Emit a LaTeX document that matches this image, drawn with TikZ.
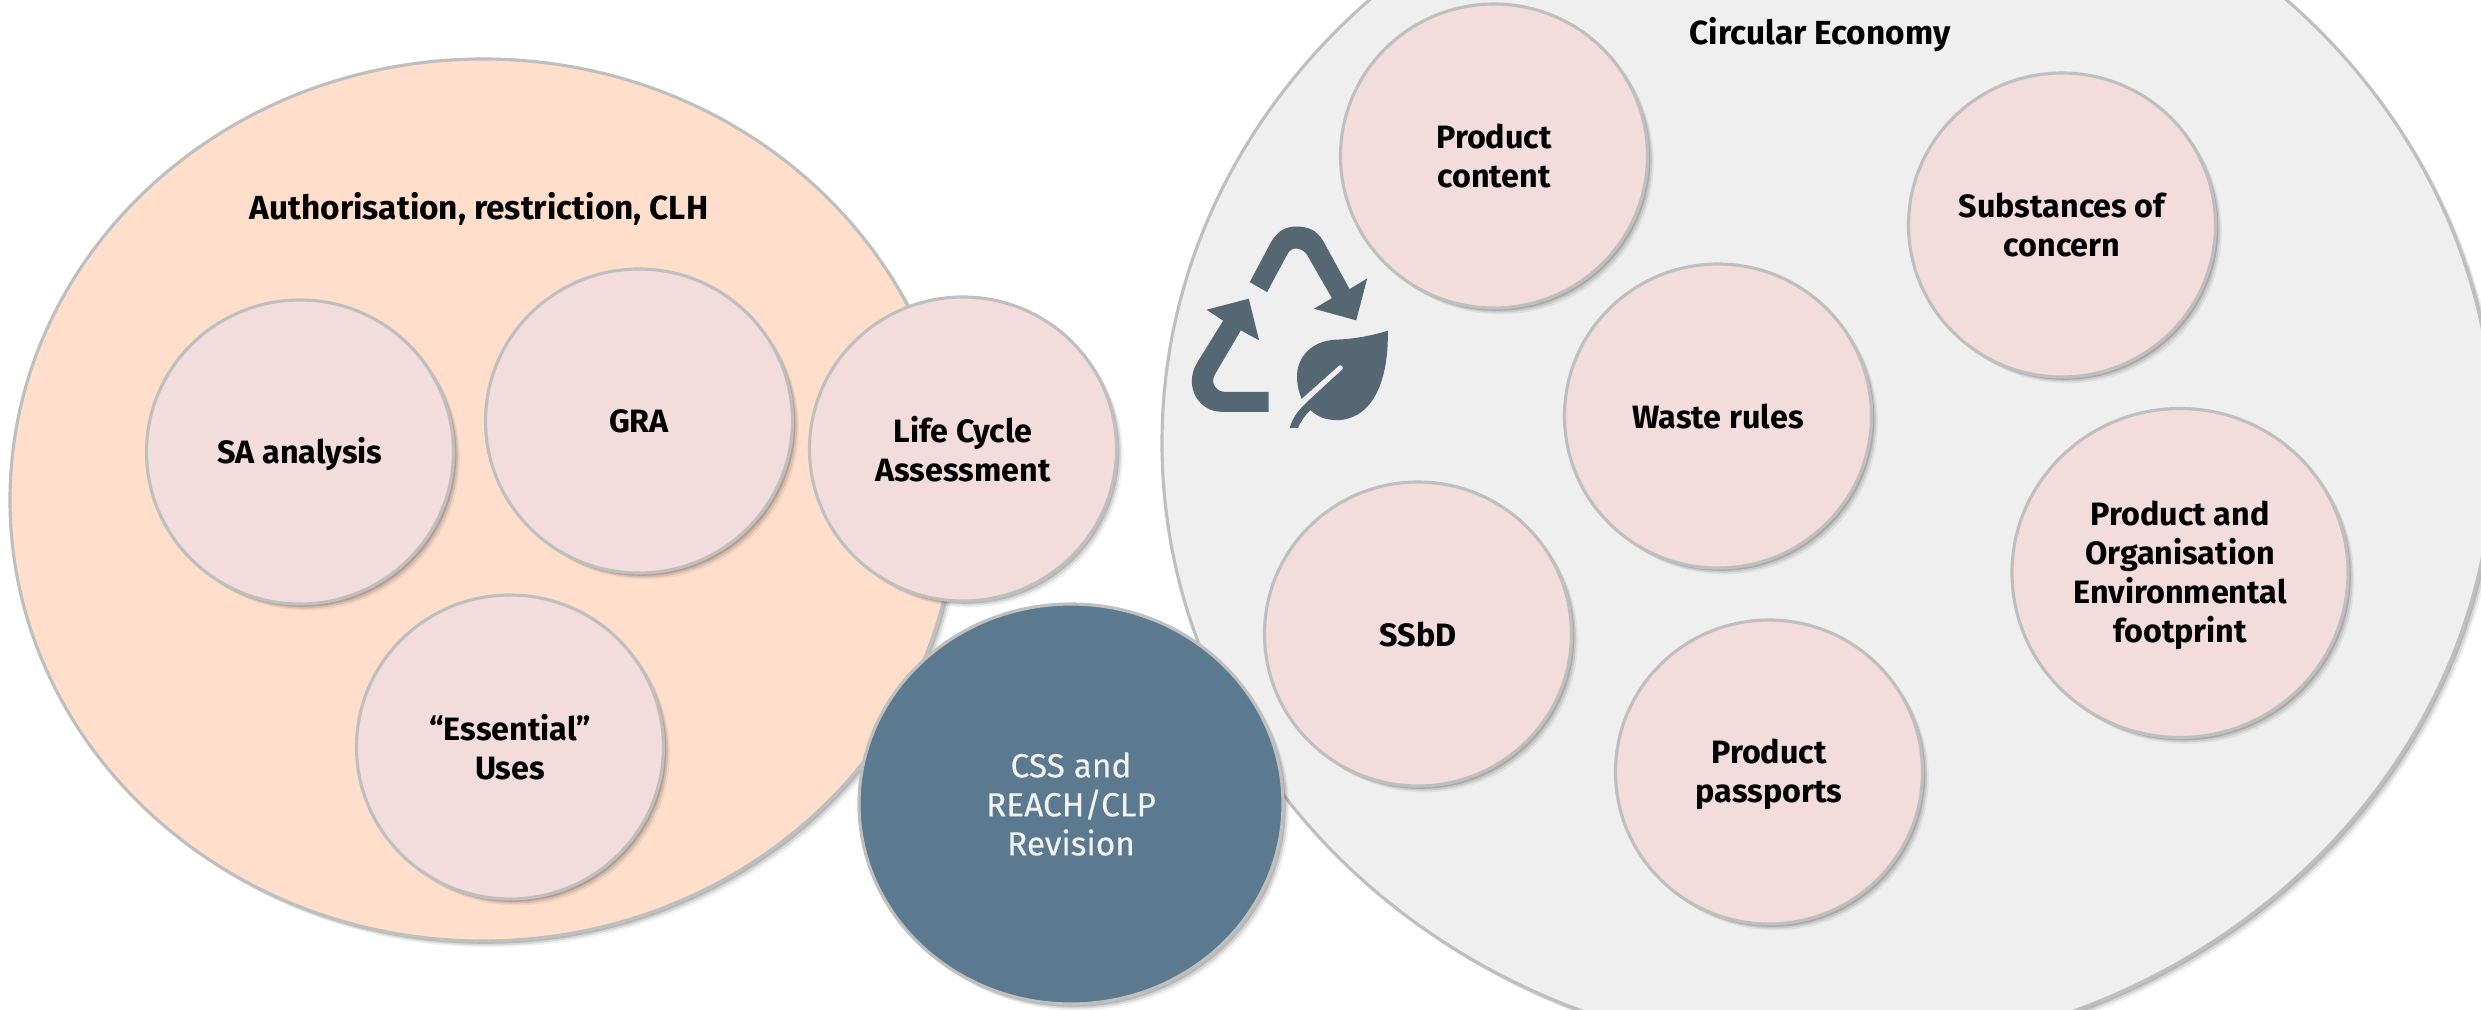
\documentclass[tikz,border=0pt]{standalone}
\usepackage{fontspec}
\setmainfont{Fira Sans}
\newfontfamily\medfont[FakeBold=0.35]{Fira Sans}
\usepackage{xcolor}
\usetikzlibrary{shapes,shadows}
\definecolor{peach}{HTML}{FFDFCC}
\definecolor{lgrey}{HTML}{EFEFEF}
\definecolor{pink}{HTML}{F2DCDC}
\definecolor{steel}{HTML}{5B7A90}
\definecolor{slate}{HTML}{546773}
\definecolor{edge}{HTML}{BFBFBF}
\definecolor{pale}{HTML}{F2F2F2}
\newcommand{\lowr}{\rule{0pt}{8.3pt}}
\tikzset{ell/.style={ellipse,draw=edge,line width=0.9pt,fill=pink,inner sep=0pt,minimum width=3.07cm,minimum height=3.04cm,align=center,
    font=\bfseries\fontsize{9.2}{11.1}\selectfont,
    general shadow={shadow xshift=1.8pt,shadow yshift=-1.8pt,fill=black,opacity=0.06},
    general shadow={shadow xshift=1.3pt,shadow yshift=-1.3pt,fill=black,opacity=0.1},
    general shadow={shadow xshift=0.8pt,shadow yshift=-0.8pt,fill=black,opacity=0.15}},
  big/.style={ell,fill=#1},
  ttl/.style={font=\bfseries\fontsize{9.5}{11.1}\selectfont,inner sep=0pt}}
\begin{document}
\begin{tikzpicture}[>=stealth]
        \clip (0,0) rectangle (24.81,10.09);
        \node[big=peach,minimum width=9.46cm,minimum height=8.82cm] (o)at (4.83,5.09) {};
        \node[big=lgrey,minimum width=13.32cm,minimum height=12.22cm] (g)at (18.28,5.66) {};

        \node[ttl] (ot)at (4.79,8.0) {Authorisation, restriction, CLH};
        \node[ttl] (gt)at (18.2,9.74) {Circular Economy};

        \node[ell] (a)at (3.0,5.57) {\lowr SA analysis};
        \node[ell] (b)at (6.39,5.88) {GRA};
        \node[ell] (c)at (5.1,2.62) {“Essential”\\Uses};
        \node[ell] (d)at (9.63,5.6) {Life Cycle\\Assessment};
        \node[ell,fill=steel,text=pale,font=\medfont\fontsize{9.5}{11.1}\selectfont,minimum width=4.24cm,minimum height=4cm] (e)at (10.71,2.05) {CSS and\\REACH/CLP\\Revision};

        \node[ell] (f)at (14.94,8.53) {Product\\content};
        \node[ell] (h)at (20.62,7.84) {Substances of\\concern};
        \node[ell] (i)at (17.18,5.93) {Waste rules};
        \node[ell] (j)at (14.18,3.75) {SSbD};
        \node[ell] (k)at (17.69,2.37) {\lowr Product\\passports};
        \node[ell,minimum width=3.36cm,minimum height=3.29cm] (l)at (21.8,4.36) {\lowr Product and\\Organisation\\Environmental\\footprint};

        % recycling arrows and leaf
        \begin{scope}[shift={(11.5,8.29)},x=0.003333cm,y=-0.003333cm]
        \fill[slate] (300,307) -- (362,190) .. controls (385,150) and (410,140) .. (440,140) .. controls (475,140) and (500,150) .. (520,182) -- (600,328) -- (653,296) -- (620,422) -- (493,387) -- (547,355) -- (472,225) .. controls (460,205) and (425,195) .. (412,225) -- (352,337) -- cycle;
        \fill[slate] (357,637) -- (357,697) -- (215,697) .. controls (150,697) and (100,625) .. (140,552) -- (220,423) -- (170,390) -- (297,357) -- (328,482) -- (273,452) -- (195,585) .. controls (180,610) and (200,637) .. (225,637) -- cycle;
        \fill[slate] (715,453) .. controls (660,470) and (610,478) .. (560,480) .. controls (490,482) and (440,530) .. (442,595) .. controls (443,620) and (448,640) .. (456,658) -- (568,558) .. controls (575,552) and (585,565) .. (578,570) -- (480,660) .. controls (450,688) and (430,710) .. (420,745) -- (445,745) .. controls (455,722) and (468,705) .. (482,692) .. controls (505,712) and (530,722) .. (560,722) .. controls (660,722) and (718,620) .. cycle;
        \end{scope}
    \end{tikzpicture}
\end{document}
